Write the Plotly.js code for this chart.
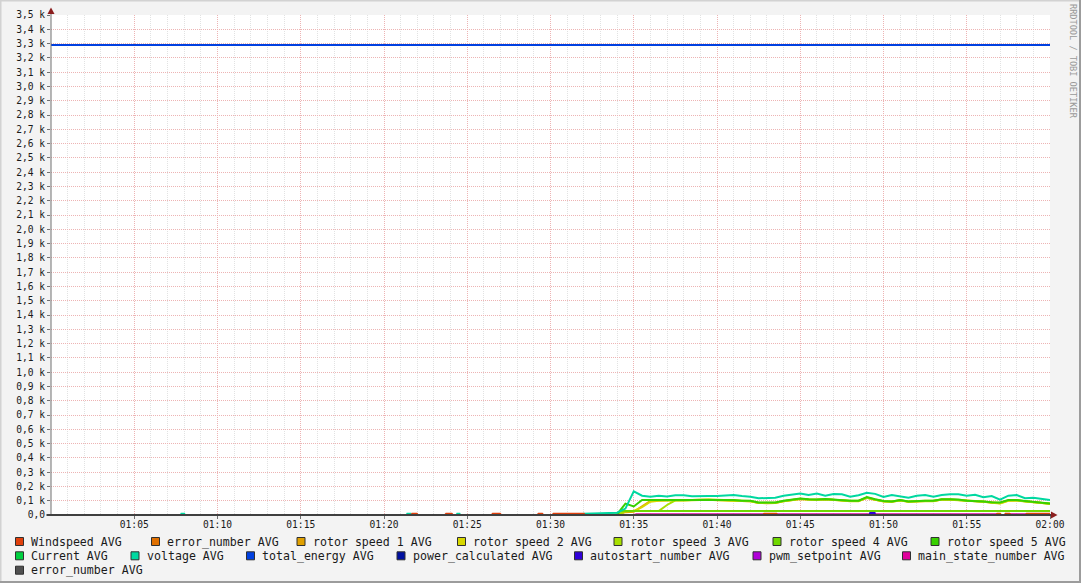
<!DOCTYPE html>
<html>
<head>
<meta charset="utf-8">
<script src="https://cdn.plot.ly/plotly-3.0.1.min.js"></script>
<style>html,body{margin:0;padding:0;background:#F3F3F3;}#chart{width:1081px;height:583px;}</style>
</head>
<body>
<div id="chart"></div>
<script>
// ---------------- DATA ----------------
const BASE = '2024-01-01 ';
const xRange = ['01:00:00', '02:00:00'];

const xTickVals = ['01:05:00','01:10:00','01:15:00','01:20:00','01:25:00','01:30:00','01:35:00','01:40:00','01:45:00','01:50:00','01:55:00','02:00:00'];
const xTickText = ['01:05','01:10','01:15','01:20','01:25','01:30','01:35','01:40','01:45','01:50','01:55','02:00'];

const yTickVals = [0,100,200,300,400,500,600,700,800,900,1000,1100,1200,1300,1400,1500,1600,1700,1800,1900,2000,2100,2200,2300,2400,2500,2600,2700,2800,2900,3000,3100,3200,3300,3400,3500];
const yTickText = ['0,0','0,1 k','0,2 k','0,3 k','0,4 k','0,5 k','0,6 k','0,7 k','0,8 k','0,9 k','1,0 k','1,1 k','1,2 k','1,3 k','1,4 k','1,5 k','1,6 k','1,7 k','1,8 k','1,9 k','2,0 k','2,1 k','2,2 k','2,3 k','2,4 k','2,5 k','2,6 k','2,7 k','2,8 k','2,9 k','3,0 k','3,1 k','3,2 k','3,3 k','3,4 k','3,5 k'];

// legend (row-major) names and colours
const seriesNames = ['Windspeed AVG','error_number AVG','rotor speed 1 AVG','rotor speed 2 AVG','rotor speed 3 AVG','rotor speed 4 AVG','rotor speed 5 AVG',
  'Current AVG','voltage AVG','total_energy AVG','power_calculated AVG','autostart_number AVG','pwm_setpoint AVG','main_state_number AVG',
  'error_number AVG'];
const seriesColors = ['#E0400C','#E07000','#E0A000','#D8D800','#A8E000','#70D800','#38D000',
  '#00D040','#00D8A0','#0040E0','#0010A0','#3000D8','#B000D8','#E0009C',
  '#505050'];

// active period sampled every 30 s
const tActive = ['01:33:00','01:33:30','01:34:00','01:34:30','01:35:00','01:35:30','01:36:00','01:36:30','01:37:00','01:37:30',
  '01:38:00','01:38:30','01:39:00','01:39:30','01:40:00','01:40:30','01:41:00','01:41:30','01:42:00','01:42:30',
  '01:43:00','01:43:30','01:44:00','01:44:30','01:45:00','01:45:30','01:46:00','01:46:30','01:47:00','01:47:30',
  '01:48:00','01:48:30','01:49:00','01:49:30','01:50:00','01:50:30','01:51:00','01:51:30','01:52:00','01:52:30',
  '01:53:00','01:53:30','01:54:00','01:54:30','01:55:00','01:55:30','01:56:00','01:56:30','01:57:00','01:57:30',
  '01:58:00','01:58:30','01:59:00','01:59:30','02:00:00'];

const voltage = [12,14,16,45,165,135,128,135,130,138,138,132,135,133,133,135,140,133,128,117,121,121,135,140,150,140,150,135,147,145,128,138,155,148,126,140,133,121,135,140,128,140,145,145,135,142,124,133,108,135,140,117,121,115,105];
const rotor5 = [0,0,5,80,60,105,105,105,108,108,105,108,108,110,108,105,105,100,100,88,86,88,100,105,115,110,108,112,108,102,100,100,125,110,98,95,105,95,100,100,100,110,110,108,100,100,95,90,88,105,105,98,92,90,80];
const rotor3 = [0,0,0,28,28,28,28,28,70,103,104,106,106,108,106,104,103,99,98,86,84,86,98,104,113,109,107,111,107,101,99,99,122,108,97,94,104,94,99,99,99,109,109,106,99,99,94,88,85,103,104,97,90,88,79];
const rotor2 = [0,0,0,25,28,55,93,100,103,104,102,104,105,106,104,102,102,97,96,84,82,84,96,102,112,108,106,110,106,99,97,97,120,106,95,92,102,92,97,97,97,108,107,104,97,97,92,86,80,100,102,95,88,86,78];
const rotor1 = [0,0,0,20,22,60,98,102,104,104,103,105,106,107,105,103,103,98,97,84,83,84,97,103,112,108,106,110,106,100,98,98,121,107,96,93,103,93,98,98,98,108,108,105,98,98,93,87,82,101,103,96,89,87,78];

const rotor4Times = ['01:00:00','01:34:00','01:34:10','02:00:00'];
const rotor4 = [0,0,28,28];

const voltageEarlyTimes = ['01:00:00','01:07:48','01:07:50','01:08:00','01:08:02','01:21:22','01:21:24','01:21:36','01:21:38','01:24:22','01:24:24','01:24:32','01:24:34','01:31:50','01:32:00','01:32:30'];
const voltageEarly = [0,0,9,9,0,0,9,9,0,0,9,9,0,0,9,11];

const windTimes = ['01:00:00',
  '01:21:38','01:21:42','01:21:58','01:22:02',
  '01:23:40','01:23:44','01:24:04','01:24:08',
  '01:26:28','01:26:32','01:26:58','01:27:02',
  '01:29:13','01:29:17','01:29:30','01:29:34',
  '01:30:07','01:30:11','01:32:00','01:32:04',
  '01:42:46','01:42:50','01:43:34','01:43:38',
  '01:56:46','01:56:50','01:57:00','01:57:04',
  '01:57:16','01:57:20','01:57:34','01:57:38',
  '01:58:32','01:58:36','02:00:00'];
const windspeed = [0, 0,8,8,0, 0,8,8,0, 0,8,8,0, 0,8,8,0, 0,8,8,0, 0,8,8,0, 0,8,8,0, 0,8,8,0, 0,8,8];

const totalEnergyTimes = ['01:00:00','02:00:00'];
const totalEnergy = [3290, 3290];

const mainStateTimes = ['01:00:00','01:35:00','01:35:10','01:56:50','01:57:00','01:57:20','01:57:30','02:00:00'];
const mainState = [0,0,6,6,0,0,6,6];

const autostartTimes = ['01:00:00','01:49:10','01:49:12','01:49:28','01:49:30','02:00:00'];
const autostart = [0,0,14,14,0,0];

const zeroTimes = ['01:00:00','02:00:00'];
const errorNumber = [0,0];
const current = [0,0];
const powerCalculated = [0,0];
const pwmSetpoint = [0,0];
const errorNumber2 = [0,0];

// ---------------- LAYOUT HELPERS ----------------
const L = 51, R = 1050, T = 15, B = 515;
const W = R - L, H = B - T;
const px = x => (x - L) / W;
const py = y => (B - y) / H;
const ts = arr => arr.map(t => BASE + t);

function line(times, vals, color) {
  return {type: 'scatter', mode: 'lines', x: ts(times), y: vals,
          line: {color: color, width: 2}, hoverinfo: 'skip', showlegend: false};
}

const traces = [
  line(zeroTimes, errorNumber, seriesColors[1]),
  line(zeroTimes, current, seriesColors[7]),
  line(zeroTimes, powerCalculated, seriesColors[10]),
  line(zeroTimes, pwmSetpoint, seriesColors[12]),
  line(zeroTimes, errorNumber2, seriesColors[14]),
  line(tActive, rotor1, seriesColors[2]),
  line(tActive, rotor2, seriesColors[3]),
  line(tActive, rotor3, seriesColors[4]),
  line(rotor4Times, rotor4, seriesColors[5]),
  line(tActive, rotor5, seriesColors[6]),
  line(voltageEarlyTimes.concat(tActive), voltageEarly.concat(voltage), seriesColors[8]),
  line(totalEnergyTimes, totalEnergy, seriesColors[9]),
  line(mainStateTimes, mainState, seriesColors[13]),
  line(autostartTimes, autostart, seriesColors[11]),
  line(windTimes, windspeed, seriesColors[0])
];

// legend layout (pixel positions of squares)
const legendRows = [541.5, 555.8, 570.2];
const legendSquareX = [
  [15.5, 151.5, 297, 457.5, 614, 773, 931],
  [15.5, 131, 246.5, 397, 574.5, 753, 902.5],
  [15.5]
];

const shapes = [];
const annotations = [];
let k = 0;
legendSquareX.forEach((row, r) => {
  row.forEach(sx => {
    const cy = legendRows[r];
    shapes.push({type: 'rect', xref: 'paper', yref: 'paper',
      x0: px(sx), x1: px(sx + 8), y0: py(cy + 4), y1: py(cy - 4),
      fillcolor: seriesColors[k], line: {color: '#303030', width: 1}});
    annotations.push({xref: 'paper', yref: 'paper', x: px(sx + 13.5), y: py(cy),
      xanchor: 'left', yanchor: 'middle', showarrow: false, text: seriesNames[k],
      font: {family: 'DejaVu Sans Mono', size: 11.6, color: '#1A1A1A'}});
    k++;
  });
});

// axes lines and arrows
shapes.push({type: 'line', xref: 'paper', yref: 'paper', x0: px(51), x1: px(51), y0: py(515), y1: py(12), line: {color: '#707070', width: 1}});
shapes.push({type: 'line', xref: 'paper', yref: 'paper', x0: px(46.5), x1: px(1052), y0: py(515), y1: py(515), line: {color: '#404040', width: 2}});
shapes.push({type: 'path', xref: 'paper', yref: 'paper',
  path: `M ${px(47.5)},${py(14)} L ${px(54.5)},${py(14)} L ${px(51)},${py(7.5)} Z`,
  fillcolor: '#8B1E1E', line: {width: 0}});
shapes.push({type: 'path', xref: 'paper', yref: 'paper',
  path: `M ${px(1051)},${py(511.5)} L ${px(1051)},${py(518.5)} L ${px(1057.5)},${py(515)} Z`,
  fillcolor: '#8B1E1E', line: {width: 0}});

// outer 3D frame
shapes.push({type: 'line', xref: 'paper', yref: 'paper', x0: px(0), x1: px(1081), y0: py(0.5), y1: py(0.5), line: {color: '#D2D2D2', width: 2}});
shapes.push({type: 'line', xref: 'paper', yref: 'paper', x0: px(0.5), x1: px(0.5), y0: py(0), y1: py(583), line: {color: '#D2D2D2', width: 2}});
shapes.push({type: 'line', xref: 'paper', yref: 'paper', x0: px(0), x1: px(1081), y0: py(582), y1: py(582), line: {color: '#9C9C9C', width: 2}});
shapes.push({type: 'line', xref: 'paper', yref: 'paper', x0: px(1080), x1: px(1080), y0: py(0), y1: py(583), line: {color: '#9C9C9C', width: 2}});

annotations.push({xref: 'paper', yref: 'paper', x: px(1073), y: py(61), textangle: 90,
  showarrow: false, xanchor: 'center', yanchor: 'middle', text: 'RRDTOOL / TOBI OETIKER',
  font: {family: 'DejaVu Sans Mono', size: 8.6, color: '#999999'}});

const layout = {
  width: 1081, height: 583,
  margin: {l: L, r: 1081 - R, t: T, b: 583 - B, pad: 0},
  paper_bgcolor: '#F3F3F3', plot_bgcolor: '#FFFFFF',
  showlegend: false,
  font: {family: 'DejaVu Sans Mono', size: 9.6, color: '#1A1A1A'},
  xaxis: {
    type: 'date', range: ts(xRange), fixedrange: true,
    tickmode: 'array', tickvals: ts(xTickVals), ticktext: xTickText,
    showgrid: true, gridcolor: '#EDB4B4', griddash: '1px,1px', gridwidth: 1,
    ticks: 'outside', ticklen: 3, tickcolor: '#707070',
    ticklabelstandoff: -3,
    minor: {tickmode: 'linear', tick0: BASE + '01:00:00', dtick: 60000,
            showgrid: true, gridcolor: '#E2E2E2', griddash: '1px,1px', gridwidth: 1, ticks: ''},
    showline: false, zeroline: false,
    tickfont: {family: 'DejaVu Sans Mono', size: 9.6, color: '#1A1A1A'}
  },
  yaxis: {
    range: [0, 3500], fixedrange: true,
    tickmode: 'array', tickvals: yTickVals, ticktext: yTickText,
    showgrid: true, gridcolor: '#EDB4B4', griddash: '1px,1px', gridwidth: 1,
    ticks: 'outside', ticklen: 3, tickcolor: '#707070',
    showline: false, zeroline: false,
    tickfont: {family: 'DejaVu Sans Mono', size: 9.6, color: '#1A1A1A'}
  },
  shapes: shapes,
  annotations: annotations
};

Plotly.newPlot('chart', traces, layout, {staticPlot: true, displayModeBar: false});
</script>
</body>
</html>
